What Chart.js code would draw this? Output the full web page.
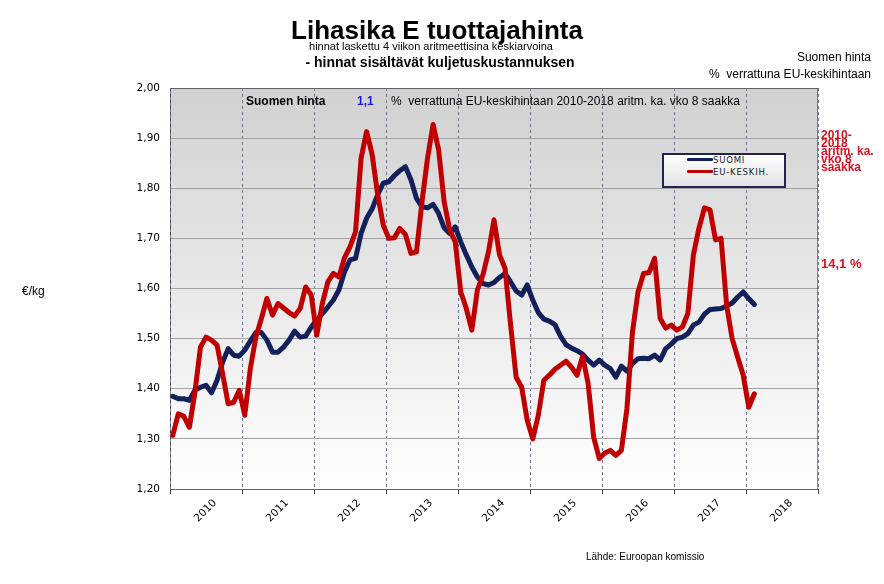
<!DOCTYPE html>
<html><head><meta charset="utf-8">
<script src="https://cdn.jsdelivr.net/npm/chart.js@4.4.1/dist/chart.umd.min.js"></script>
<style>
html,body{margin:0;padding:0;background:#fff;}
#wrap{position:relative;width:884px;height:584px;overflow:hidden;font-family:'Liberation Sans',Arial,sans-serif;color:#000;}
#c{position:absolute;left:0;top:0;}
.t{position:absolute;white-space:pre;line-height:1;}
.lg{position:absolute;white-space:pre;line-height:1;font-family:'DejaVu Sans',Verdana,sans-serif;font-size:8.5px;letter-spacing:0.8px;color:#222;}
.sw{position:absolute;height:3px;width:26px;border-radius:1px;}
</style></head><body>
<div id="wrap">
<canvas id="c" width="884" height="584"></canvas>

<div class="t" style="left:437px;top:17px;font-size:26px;font-weight:bold;transform:translateX(-50%)">Lihasika E tuottajahinta</div>
<div class="t" style="left:431px;top:41px;font-size:11px;transform:translateX(-50%)">hinnat laskettu 4 viikon aritmeettisina keskiarvoina</div>
<div class="t" style="left:440px;top:55px;font-size:14px;font-weight:bold;transform:translateX(-50%)">- hinnat sisältävät kuljetuskustannuksen</div>
<div class="t" style="right:13px;top:51px;font-size:12px;">Suomen hinta</div>
<div class="t" style="right:13px;top:68px;font-size:12px;">%  verrattuna EU-keskihintaan</div>

<div class="t" style="left:246px;top:95px;font-size:12px;font-weight:bold;">Suomen hinta</div>
<div class="t" style="left:357px;top:95px;font-size:12px;font-weight:bold;color:#1a1ad0;">1,1</div>
<div class="t" style="left:391px;top:95px;font-size:12px;">%  verrattuna EU-keskihintaan 2010-2018 aritm. ka. vko 8 saakka</div>

<div class="t" style="left:821px;top:131px;font-size:12px;font-weight:bold;color:#dd1020;line-height:8px;">2010-
2018
aritm. ka.
vko 8
saakka</div>
<div class="t" style="left:821px;top:257px;font-size:13px;font-weight:bold;color:#dd1020;">14,1 %</div>

<div class="t" style="left:22px;top:285px;font-size:12px;">€/kg</div>
<div class="t" style="left:586px;top:552px;font-size:10px;">Lähde: Euroopan komissio</div>

<div style="position:absolute;left:662px;top:153px;width:120px;height:31px;border:2px solid #1f2552;background:linear-gradient(#ffffff,#e2e2e6);">
  <div class="sw" style="left:23px;top:3px;background:#13205a;"></div>
  <div class="lg" style="left:49px;top:1px;">SUOMI</div>
  <div class="sw" style="left:23px;top:15px;background:#c00000;"></div>
  <div class="lg" style="left:49px;top:13px;">EU-KESKIH.</div>
</div>
</div>

<script>
// ---- data ----
const years = ['2010','2011','2012','2013','2014','2015','2016','2017','2018'];
const firstYear = 2010;
const periodsPerYear = 13; // 4-week periods

const suomi = [
  1.385,1.380,1.380,1.377,1.397,1.403,1.407,1.392,1.417,1.453,
  1.480,1.467,1.465,1.477,1.495,1.512,1.512,1.497,1.473,1.473,
  1.483,1.497,1.515,1.503,1.505,1.523,1.537,1.550,1.563,1.577,
  1.597,1.633,1.657,1.660,1.710,1.740,1.759,1.787,1.810,1.813,
  1.825,1.835,1.843,1.817,1.780,1.763,1.761,1.768,1.750,1.721,
  1.710,1.723,1.693,1.667,1.643,1.623,1.610,1.607,1.612,1.622,
  1.630,1.613,1.595,1.587,1.607,1.577,1.552,1.539,1.535,1.528,
  1.505,1.488,1.481,1.476,1.469,1.457,1.447,1.457,1.447,1.440,
  1.423,1.445,1.435,1.450,1.460,1.461,1.460,1.467,1.457,1.480,
  1.489,1.500,1.503,1.510,1.527,1.533,1.549,1.558,1.559,1.560,
  1.565,1.571,1.583,1.593,1.580,1.568
];

const euKeskih = [
  1.307,1.350,1.345,1.323,1.393,1.483,1.503,1.497,1.487,1.430,
  1.370,1.373,1.397,1.347,1.440,1.503,1.540,1.580,1.547,1.570,
  1.561,1.552,1.545,1.560,1.603,1.587,1.507,1.570,1.613,1.630,
  1.623,1.661,1.683,1.713,1.860,1.913,1.867,1.787,1.727,1.700,
  1.701,1.720,1.708,1.670,1.673,1.773,1.860,1.927,1.877,1.773,
  1.717,1.693,1.593,1.560,1.517,1.597,1.627,1.673,1.737,1.667,
  1.640,1.527,1.423,1.403,1.337,1.300,1.347,1.417,1.427,1.439,
  1.447,1.455,1.443,1.427,1.465,1.410,1.303,1.261,1.272,1.277,
  1.267,1.277,1.360,1.513,1.593,1.630,1.632,1.660,1.540,1.521,
  1.527,1.517,1.523,1.550,1.667,1.720,1.761,1.757,1.697,1.700,
  1.567,1.500,1.463,1.427,1.363,1.390
];

const yMin = 1.2, yMax = 2.0, yStep = 0.1;

// ---- chart ----
const toXY = arr => arr.map((v, j) => ({ x: firstYear + (j + 0.5) / periodsPerYear, y: v }));
const xMax = firstYear + years.length;

const plotFrame = {
  id: 'plotFrame',
  beforeDraw(chart) {
    const { ctx, chartArea: a } = chart;
    const g = ctx.createLinearGradient(0, a.top, 0, a.bottom);
    g.addColorStop(0, '#d1d1d1');
    g.addColorStop(1, '#ffffff');
    ctx.save();
    ctx.fillStyle = g;
    ctx.fillRect(a.left, a.top, a.right - a.left, a.bottom - a.top);
    ctx.restore();
  },
  beforeDatasetsDraw(chart) {
    const { ctx, chartArea: a } = chart;
    ctx.save();
    ctx.strokeStyle = '#1e1e30';
    ctx.lineWidth = 1;
    ctx.setLineDash([1, 1]);
    ctx.strokeRect(a.left + 0.5, a.top + 0.5, a.right - a.left - 1, a.bottom - a.top);
    ctx.restore();
  }
};

new Chart(document.getElementById('c'), {
  type: 'line',
  data: {
    datasets: [
      { label: 'EU-KESKIH.', data: toXY(euKeskih), borderColor: '#c00000', borderWidth: 5,
        pointRadius: 0, tension: 0, borderJoinStyle: 'round', borderCapStyle: 'round',
        order: 0, xAxisID: 'x', yAxisID: 'y' },
      { label: 'SUOMI', data: toXY(suomi), borderColor: '#13205a', borderWidth: 5,
        pointRadius: 0, tension: 0, borderJoinStyle: 'round', borderCapStyle: 'round',
        order: 1, xAxisID: 'x', yAxisID: 'y' }
    ]
  },
  options: {
    responsive: false,
    animation: false,
    layout: { padding: { left: 0, right: 66, top: 88, bottom: 0 } },
    plugins: { legend: { display: false }, tooltip: { enabled: false }, title: { display: false } },
    scales: {
      xg: {
        type: 'linear', position: 'bottom', min: firstYear, max: xMax, weight: 0,
        afterBuildTicks: s => { s.ticks = years.map((_, i) => ({ value: firstYear + i })).concat([{ value: xMax }]); },
        ticks: { display: false },
        grid: { color: '#70748e', lineWidth: 1, drawTicks: true, tickLength: 5, tickColor: '#444', tickBorderDash: [] },
        border: { display: false, dash: [3, 3] },
        afterFit: s => { s.height = 5; }
      },
      x: {
        type: 'linear', position: 'bottom', min: firstYear, max: xMax, weight: 1,
        afterBuildTicks: s => { s.ticks = years.map((_, i) => ({ value: firstYear + i + 0.5 })); },
        ticks: {
          callback: (v, i) => years[i], autoSkip: false, minRotation: 45, maxRotation: 45,
          font: { family: 'DejaVu Sans', size: 10.5 }, color: '#000', padding: -5, labelOffset: 9
        },
        grid: { display: false }, border: { display: false },
        afterFit: s => { s.height = 90; }
      },
      y: {
        type: 'linear', min: yMin, max: yMax,
        ticks: { stepSize: yStep, callback: v => v.toFixed(2).replace('.', ','),
          font: { family: 'DejaVu Sans', size: 10.5 }, color: '#000', padding: 10 },
        grid: { color: '#a2a2a2', lineWidth: 1, drawTicks: false },
        border: { display: false },
        afterFit: s => { s.width = 170; }
      }
    }
  },
  plugins: [plotFrame]
});
</script>
</body></html>
